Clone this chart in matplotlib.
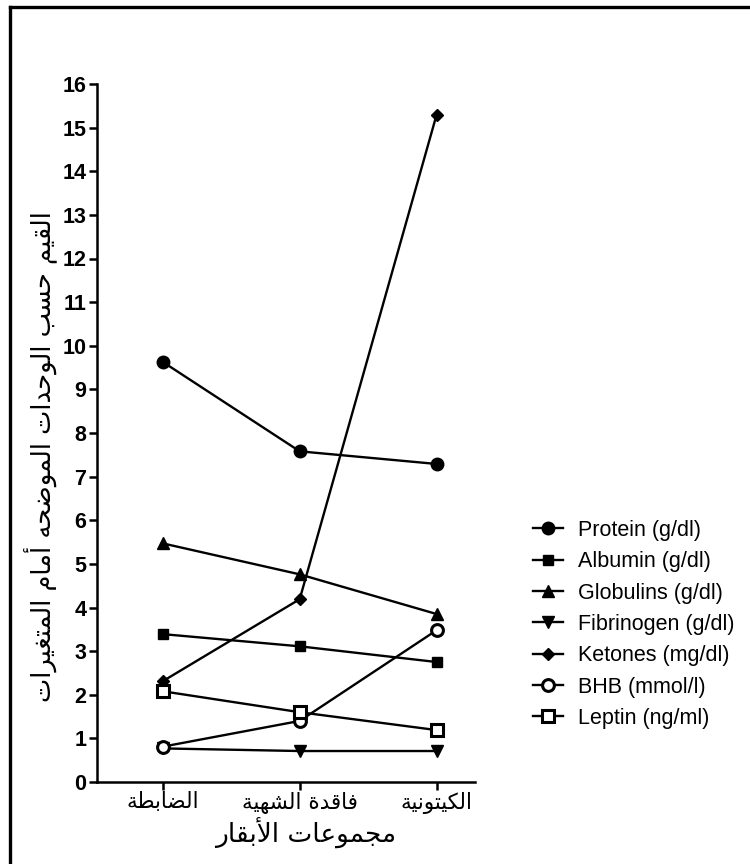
import matplotlib
matplotlib.use("Agg")
import matplotlib.pyplot as plt
from matplotlib.lines import Line2D

# ---------------- data ----------------
groups = ["الضابطة", "فاقدة الشهية", "الكيتونية"]
series_names = ["Protein (g/dl)", "Albumin (g/dl)", "Globulins (g/dl)",
                "Fibrinogen (g/dl)", "Ketones (mg/dl)", "BHB (mmol/l)",
                "Leptin (ng/ml)"]
protein = [9.63, 7.58, 7.29]
albumin = [3.39, 3.11, 2.75]
globulins = [5.47, 4.76, 3.85]
fibrinogen = [0.77, 0.71, 0.71]
ketones = [2.31, 4.19, 15.3]
bhb = [0.81, 1.40, 3.48]
leptin = [2.08, 1.60, 1.19]
y_ticks = list(range(0, 17))
y_label = "القيم حسب الوحدات الموضحه أمام المتغيرات"
x_label = "مجموعات الأبقار"

# ------------- Arabic shaping (matplotlib has no text shaping) -------------
AR = {
    '\u0627': ('\uFE8D', '\uFE8E'),
    '\u0623': ('\uFE83', '\uFE84'),
    '\u0625': ('\uFE87', '\uFE88'),
    '\u0622': ('\uFE81', '\uFE82'),
    '\u0628': ('\uFE8F', '\uFE90', '\uFE91', '\uFE92'),
    '\u0629': ('\uFE93', '\uFE94'),
    '\u062A': ('\uFE95', '\uFE96', '\uFE97', '\uFE98'),
    '\u062C': ('\uFE9D', '\uFE9E', '\uFE9F', '\uFEA0'),
    '\u062D': ('\uFEA1', '\uFEA2', '\uFEA3', '\uFEA4'),
    '\u062F': ('\uFEA9', '\uFEAA'),
    '\u0631': ('\uFEAD', '\uFEAE'),
    '\u0633': ('\uFEB1', '\uFEB2', '\uFEB3', '\uFEB4'),
    '\u0634': ('\uFEB5', '\uFEB6', '\uFEB7', '\uFEB8'),
    '\u0636': ('\uFEBD', '\uFEBE', '\uFEBF', '\uFEC0'),
    '\u0637': ('\uFEC1', '\uFEC2', '\uFEC3', '\uFEC4'),
    '\u0639': ('\uFEC9', '\uFECA', '\uFECB', '\uFECC'),
    '\u063A': ('\uFECD', '\uFECE', '\uFECF', '\uFED0'),
    '\u0641': ('\uFED1', '\uFED2', '\uFED3', '\uFED4'),
    '\u0642': ('\uFED5', '\uFED6', '\uFED7', '\uFED8'),
    '\u0643': ('\uFED9', '\uFEDA', '\uFEDB', '\uFEDC'),
    '\u0644': ('\uFEDD', '\uFEDE', '\uFEDF', '\uFEE0'),
    '\u0645': ('\uFEE1', '\uFEE2', '\uFEE3', '\uFEE4'),
    '\u0646': ('\uFEE5', '\uFEE6', '\uFEE7', '\uFEE8'),
    '\u0647': ('\uFEE9', '\uFEEA', '\uFEEB', '\uFEEC'),
    '\u0648': ('\uFEED', '\uFEEE'),
    '\u064A': ('\uFEF1', '\uFEF2', '\uFEF3', '\uFEF4'),
}
LAM_ALEF = {'\u0627': ('\uFEFB', '\uFEFC'), '\u0623': ('\uFEF7', '\uFEF8'),
            '\u0625': ('\uFEF9', '\uFEFA'), '\u0622': ('\uFEF5', '\uFEF6')}


def shape(s):
    out = []
    i = 0
    n = len(s)
    prev_joins = False
    while i < n:
        c = s[i]
        if c not in AR:
            out.append(c)
            prev_joins = False
            i += 1
            continue
        if c == '\u0644' and i + 1 < n and s[i + 1] in LAM_ALEF:
            f = LAM_ALEF[s[i + 1]]
            out.append(f[1] if prev_joins else f[0])
            prev_joins = False
            i += 2
            continue
        forms = AR[c]
        nxt = s[i + 1] if i + 1 < n else ''
        can_next = len(forms) == 4 and nxt in AR
        if prev_joins and can_next:
            g = forms[3]
        elif prev_joins:
            g = forms[1]
        elif can_next:
            g = forms[2]
        else:
            g = forms[0]
        out.append(g)
        prev_joins = len(forms) == 4
        i += 1
    return ''.join(reversed(out))


AR_FONT = ['DejaVu Sans']
LAT_FONT = ['Liberation Sans', 'DejaVu Sans']

# ---------------- figure ----------------
fig = plt.figure(figsize=(7.5, 8.64), dpi=100)
ax = fig.add_axes([97 / 750, 1 - 782 / 864, (475 - 97) / 750, (782 - 84) / 864])

styles = [
    dict(marker='o', ms=9, mfc='black'),
    dict(marker='s', ms=7.5, mfc='black'),
    dict(marker='^', ms=8, mfc='black'),
    dict(marker='v', ms=8, mfc='black'),
    dict(marker='D', ms=6.5, mfc='black'),
    dict(marker='o', ms=8.5, mfc='white', mew=2.2),
    dict(marker='s', ms=8, mfc='white', mew=2.2),
]
all_series = [protein, albumin, globulins, fibrinogen, ketones, bhb, leptin]
xs = list(range(len(groups)))
for name, vals, st in zip(series_names, all_series, styles):
    ax.plot(xs, vals, color='black', lw=1.7, mec='black', label=name, **st)

ax.set_xlim(-0.48, 2.28)
ax.set_ylim(0, 16)
ax.set_yticks(y_ticks)
ax.set_yticklabels([str(t) for t in y_ticks], fontfamily=LAT_FONT,
                   fontweight='bold', fontsize=15.5)
ax.set_xticks(xs)
ax.set_xticklabels([shape(g) for g in groups], fontfamily=AR_FONT, fontsize=15.5)

for sp in ['top', 'right']:
    ax.spines[sp].set_visible(False)
for sp in ['left', 'bottom']:
    ax.spines[sp].set_linewidth(1.8)
ax.tick_params(axis='both', direction='out', length=5.5, width=1.8, pad=2)

ax.set_ylabel(shape(y_label), fontfamily=AR_FONT, fontsize=18.5)
ax.yaxis.set_label_coords(-0.148, 0.466)
ax.set_xlabel(shape(x_label), fontfamily=AR_FONT, fontsize=19)
ax.xaxis.set_label_coords(0.553, -0.073)
ax.xaxis.label.set_va('center')
ax.yaxis.label.set_va('center')

leg = fig.legend(loc='center left', bbox_to_anchor=(533 / 750, 1 - 624.5 / 864),
                 frameon=False, prop={'family': LAT_FONT, 'size': 15.5},
                 handlelength=1.4, handletextpad=0.7, borderpad=0,
                 borderaxespad=0, labelspacing=0.48)

# outer border (cropped at right/bottom in the reference)
fig.add_artist(Line2D([10 / 750, 10 / 750], [0, 1 - 7 / 864], color='black',
                      lw=2.4, transform=fig.transFigure))
fig.add_artist(Line2D([10 / 750, 1], [1 - 7 / 864, 1 - 7 / 864], color='black',
                      lw=2.4, transform=fig.transFigure))

fig.savefig('out.png', dpi=100)
